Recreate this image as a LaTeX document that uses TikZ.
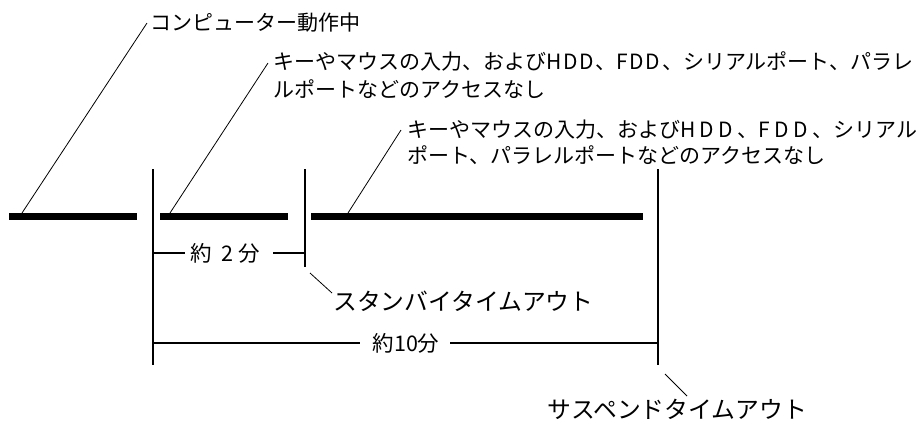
\documentclass[tikz,border=0pt]{standalone}
\usepackage{fontspec}
\newfontfamily\jpfont{Noto Sans CJK JP}
\begin{document}
\begin{tikzpicture}[x=1pt,y=-1pt,
  bar/.style={line width=7pt},
  tick/.style={line width=2pt},
  dim/.style={line width=1.6pt},
  leader/.style={line width=0.8pt},
  lbl/.style={inner sep=0pt,font=\jpfont\fontsize{21}{27}\selectfont,align=left},
  big/.style={inner sep=0pt,font=\jpfont\fontsize{23.8}{28}\selectfont},
  mid/.style={inner sep=0pt,font=\jpfont\fontsize{21.5}{26}\selectfont}]
\useasboundingbox (0,0) rectangle (919,424);
% bars
\coordinate (b1a) at (9,216.5); \coordinate (b1b) at (137,216.5);
\coordinate (b2a) at (160,216.5); \coordinate (b2b) at (288,216.5);
\coordinate (b3a) at (311,216.5); \coordinate (b3b) at (643,216.5);
\draw[bar] (b1a) -- (b1b);
\draw[bar] (b2a) -- (b2b);
\draw[bar] (b3a) -- (b3b);
% ticks
\coordinate (v1t) at (152.5,169); \coordinate (v1b) at (152.5,365);
\coordinate (v2t) at (304.5,169); \coordinate (v2b) at (304.5,267);
\coordinate (v3t) at (658,169); \coordinate (v3b) at (658,365);
\draw[tick] (v1t) -- (v1b);
\draw[tick] (v2t) -- (v2b);
\draw[tick] (v3t) -- (v3b);
% labels
\node[lbl,anchor=west] (t1) at (150,23) {コンピューター動作中};
\node[lbl,anchor=west,font=\jpfont\fontsize{21}{28.5}\selectfont] (t2) at (273,75) {キーやマウスの入力、およびH\kern1.7pt D\kern1.7pt D\kern1.7pt、F\kern1.7pt D\kern1.7pt D\kern1.7pt、シリアルポート、パラレ\\ルポートなどのアクセスなし};
\node[lbl,anchor=west,font=\jpfont\fontsize{21}{26}\selectfont] (t3) at (407,142) {キーやマウスの入力、およびH\kern4.5pt D\kern4.5pt D\kern4.5pt、F\kern4.5pt D\kern4.5pt D\kern4.5pt、シリアル\\ポート、パラレルポートなどのアクセスなし};
\node[big,anchor=west] (sb) at (333,301) {スタンバイタイムアウト};
\node[big] (sp) at (677.5,409) {サスペンドタイムアウト};
\node[mid,anchor=west] (d2) at (190,253) {約\hspace{10pt}2\hspace{5pt}分};
\node[mid] (d10) at (406,343) {約10分};
% leaders
\coordinate (l1a) at (22,213); \coordinate (l1b) at (147,23);
\coordinate (l2a) at (170,213); \coordinate (l2b) at (268,63);
\coordinate (l3a) at (348,213); \coordinate (l3b) at (401,130);
\coordinate (lsa) at (310,273); \coordinate (lsb) at (332,293);
\coordinate (lpa) at (665,374); \coordinate (lpb) at (687,396);
\draw[leader] (l1a) -- (l1b);
\draw[leader] (l2a) -- (l2b);
\draw[leader] (l3a) -- (l3b);
\draw[leader] (lsa) -- (lsb);
\draw[leader] (lpa) -- (lpb);
% dimension lines
\coordinate (d2l) at (185,253); \coordinate (d2r) at (273,253);
\coordinate (d10l) at (360,343); \coordinate (d10r) at (450,343);
\draw[dim] (v1t |- d2l) -- (d2l);
\draw[dim] (d2r) -- (v2t |- d2r);
\draw[dim] (v1t |- d10l) -- (d10l);
\draw[dim] (d10r) -- (v3t |- d10r);
\end{tikzpicture}
\end{document}
